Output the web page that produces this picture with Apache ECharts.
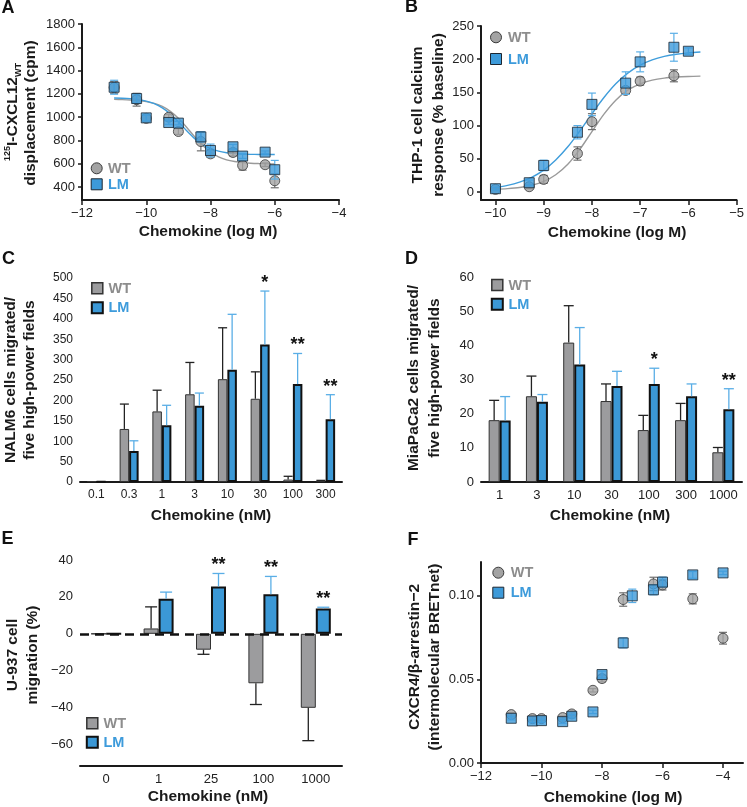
<!DOCTYPE html>
<html><head><meta charset="utf-8">
<script src="https://cdn.jsdelivr.net/npm/echarts@6/dist/echarts.min.js"></script>
<style>html,body{margin:0;padding:0;background:#fff}#c{width:747px;height:807px}</style>
</head><body><div id="c"></div>
<script>
// ---------- Panel A: 125I-CXCL12 displacement ----------
const aX = [-11, -10.3, -10, -9.3, -9, -8.3, -8, -7.3, -7, -6.3, -6];
const aWT = [1255, 1150, 990, 1000, 877, 791, 685, 697, 586, 592, 454];
const aWTErr = [50, 55, 25, 25, 25, 80, 30, 30, 40, 15, 60];
const aLM = [1257, 1160, 994, 954, 949, 831, 714, 746, 666, 700, 549];
const aLMErr = [60, 40, 25, 15, 15, 45, 55, 20, 20, 10, 80];
const aFitX = [-11, -10.75, -10.5, -10.25, -10, -9.75, -9.5, -9.25, -9, -8.75, -8.5, -8.25, -8, -7.75, -7.5, -7.25, -7, -6.75, -6.5, -6.25, -6];
const aWTFit = [1153, 1151, 1148, 1143, 1134, 1118, 1092, 1050, 991, 916, 834, 759, 701, 660, 634, 619, 610, 605, 602, 600, 599];
const aLMFit = [1165, 1163, 1159, 1151, 1138, 1116, 1080, 1028, 960, 886, 818, 766, 730, 708, 695, 687, 683, 681, 680, 679, 679];
const aYTicks = [400, 600, 800, 1000, 1200, 1400, 1600, 1800];

// ---------- Panel B: THP-1 calcium ----------
const bLMX = [-10, -9.3, -9, -8.3, -8, -7.3, -7, -6.3, -6];
const bLM = [5, 14, 40, 90, 132, 164, 196, 218, 212];
const bLMErr = [2, 4, 8, 10, 17, 17, 15, 21, 5];
const bWTX = [-10, -9.3, -9, -8.3, -8, -7.3, -7, -6.3];
const bWT = [4, 8, 19, 58, 106, 153, 167, 175];
const bWTErr = [2, 3, 6, 10, 12, 5, 6, 9];
const bFitX = [-10, -9.75, -9.5, -9.25, -9, -8.75, -8.5, -8.25, -8, -7.75, -7.5, -7.25, -7, -6.75, -6.5, -6.25, -6, -5.75];
const bLMFit = [7, 10, 14.8, 22, 32.9, 48.2, 68.1, 92.1, 117.8, 142.3, 163.3, 179.5, 191.1, 199, 204.2, 207.5, 209.6, 210.9];
const bWTFit = [4.1, 5.1, 6.8, 10.1, 16, 26.1, 41.9, 64.3, 91, 117.3, 138.7, 153.7, 163, 168.5, 171.5, 173.1, 174, 174.5];
const bXTicks = [-10, -9, -8, -7, -6, -5];
const bYTicks = [0, 50, 100, 150, 200, 250];

// ---------- Panel C: NALM6 migration ----------
const cCats = ['0.1', '0.3', '1', '3', '10', '30', '100', '300'];
const cWT = [2, 130, 173, 215, 252, 204, 6, 3];
const cWTErr = [0, 61, 52, 78, 126, 66, 8, 1];
const cLM = [1, 76, 139, 187, 275, 337, 240, 154];
const cLMErr = [0, 25, 49, 31, 136, 131, 75, 60];
const cStars = ['', '', '', '', '', '*', '**', '**'];

// ---------- Panel D: MiaPaCa2 migration ----------
const dCats = ['1', '3', '10', '30', '100', '300', '1000'];
const dWT = [18.1, 25.1, 40.8, 23.7, 15.2, 18.1, 8.7];
const dWTErr = [5.8, 5.9, 10.8, 5.0, 4.3, 4.9, 1.4];
const dLM = [18.0, 23.5, 34.4, 28.1, 28.7, 25.1, 21.3];
const dLMErr = [7.0, 2.1, 10.8, 4.3, 4.6, 3.6, 6.0];
const dStars = ['', '', '', '', '*', '', '**'];

// ---------- Panel E: U-937 migration ----------
const eCats = ['0', '1', '25', '100', '1000'];
const eWT = [0, 2.9, -8.6, -26.8, -40.1];
const eWTErr = [0, 11.7, 2.5, 11.5, 17.8];
const eLM = [0, 19.0, 25.7, 21.4, 13.7];
const eLMErr = [0, 3.6, 7.0, 9.7, 0.7];
const eStars = ['', '', '**', '**', '**'];
const eYLabels = [-60, -40, -20, 0, 20, 40];

// ---------- Panel F: BRET ----------
const fLMX = [-11, -10.3, -10, -9.3, -9, -8.3, -8, -7.3, -7, -6.3, -6, -5, -4];
const fLM = [0.0267, 0.0251, 0.0253, 0.0247, 0.0279, 0.0305, 0.0528, 0.0717, 0.0998, 0.1034, 0.108, 0.1123, 0.1135];
const fLMErr = [0.001, 0.001, 0.001, 0.001, 0.001, 0.001, 0.002, 0.003, 0.004, 0.003, 0.003, 0.002, 0.001];
const fWTX = [-11, -10.3, -10, -9.3, -9, -8.3, -8, -7.3, -6.3, -6, -5, -4];
const fWT = [0.0289, 0.0265, 0.0265, 0.0271, 0.0293, 0.0434, 0.0504, 0.0976, 0.1069, 0.1063, 0.098, 0.0745];
const fWTErr = [0.001, 0.001, 0.001, 0.001, 0.001, 0.001, 0.002, 0.004, 0.004, 0.003, 0.003, 0.0035];
const fXTicks = [-12, -10, -8, -6, -4];
const fYTicks = [0, 0.05, 0.1];

// ---------- styling ----------
const FONT = '"Liberation Sans", Arial, Helvetica, sans-serif';
const GRAY = '#9c9c9e', BLUE = '#3b98d6';
const GRAYTXT = '#8d8d8d', BLUETXT = '#3d9bdb';
const ERRG = '#6f6f6f', ERRB = '#5aaee6', AX = '#1a1a1a';
const MK_G = {color: '#a3a3a3', borderColor: '#3a3a3a', borderWidth: 1};
const MK_B = {color: '#3d9ad9', borderColor: '#1c2630', borderWidth: 1};
const minus = v => String(v).replace('-', '\u2212');

function zip(xs, ys) { return xs.map((x, i) => [x, ys[i]]); }

function axisBase(gi, extra) {
  const base = {
    gridIndex: gi,
    axisLine: {onZero: false, lineStyle: {color: AX, width: 2}},
    axisTick: {inside: false, length: 5, lineStyle: {color: AX, width: 1.5}},
    axisLabel: {color: '#222', fontSize: 13, fontFamily: FONT, margin: 7},
    splitLine: {show: false}
  };
  const out = Object.assign({}, base, extra);
  if (extra.axisLabel) out.axisLabel = Object.assign({}, base.axisLabel, extra.axisLabel);
  if (extra.axisTick) out.axisTick = Object.assign({}, base.axisTick, extra.axisTick);
  return out;
}

function scatterErr(ai, xs, ys, es, color, z) {
  return {
    type: 'custom', xAxisIndex: ai, yAxisIndex: ai, z: z, silent: true,
    data: xs.map((x, i) => [x, ys[i], es[i]]),
    renderItem: function (params, api) {
      const x = api.value(0), y = api.value(1), e = api.value(2);
      const p1 = api.coord([x, y + e]), p2 = api.coord([x, y - e]);
      const w = 4, st = {stroke: color, lineWidth: 1.2};
      return {type: 'group', children: [
        {type: 'line', shape: {x1: p1[0], y1: p1[1], x2: p2[0], y2: p2[1]}, style: st},
        {type: 'line', shape: {x1: p1[0] - w, y1: p1[1], x2: p1[0] + w, y2: p1[1]}, style: st},
        {type: 'line', shape: {x1: p2[0] - w, y1: p2[1], x2: p2[0] + w, y2: p2[1]}, style: st}
      ]};
    }
  };
}

function barErr(ai, ys, es, color, dx, capW, z) {
  return {
    type: 'custom', xAxisIndex: ai, yAxisIndex: ai, z: z, silent: true,
    data: ys.map((y, i) => [i, y, es[i]]),
    renderItem: function (params, api) {
      const i = api.value(0), y = api.value(1), e = api.value(2);
      if (!e) return null;
      const s = y < 0 ? -1 : 1;
      const x = api.coord([i, 0])[0] + dx;
      const y0 = api.coord([i, y])[1], y1 = api.coord([i, y + s * e])[1];
      const st = {stroke: color, lineWidth: 1.3};
      return {type: 'group', children: [
        {type: 'line', shape: {x1: x, y1: y0, x2: x, y2: y1}, style: st},
        {type: 'line', shape: {x1: x - capW / 2, y1: y1, x2: x + capW / 2, y2: y1}, style: st}
      ]};
    }
  };
}

function starSeries(ai, labels, ys, es, dx) {
  const items = [];
  labels.forEach((l, i) => { if (l) items.push({i: i, v: ys[i] + es[i], l: l}); });
  return {
    type: 'custom', xAxisIndex: ai, yAxisIndex: ai, z: 10, silent: true,
    data: items.map(o => [o.i, o.v]),
    renderItem: function (params, api) {
      const p = api.coord([api.value(0), api.value(1)]);
      return {type: 'text', x: p[0] + dx, y: p[1] - 8,
        style: {text: items[params.dataIndex].l, font: 'bold 18px ' + FONT, fill: '#111',
          align: 'center', verticalAlign: 'middle'}};
    }
  };
}

function barSeries(ai, data, isLM, bw, extra) {
  return Object.assign({
    type: 'bar', xAxisIndex: ai, yAxisIndex: ai, data: data, barWidth: bw, barGap: '0%', z: 2,
    itemStyle: isLM ? {color: BLUE, borderColor: '#111', borderWidth: 2}
                    : {color: GRAY, borderColor: '#333', borderWidth: 1}
  }, extra || {});
}

const grids = [
  {left: 82, top: 24, width: 257, height: 176},
  {left: 481, top: 26, width: 261, height: 174},
  {left: 80, top: 278, width: 262, height: 204},
  {left: 481, top: 277, width: 261, height: 205},
  {left: 80, top: 560, width: 262, height: 203},
  {left: 481, top: 562, width: 262, height: 201}
];

const xAxes = [
  axisBase(0, {type: 'value', min: -12, max: -4, interval: 2, axisLabel: {formatter: minus}}),
  axisBase(1, {type: 'value', min: -10.3, max: -5,
    axisLabel: {customValues: bXTicks, formatter: minus}, axisTick: {customValues: bXTicks}}),
  axisBase(2, {type: 'category', data: cCats, axisLabel: {fontSize: 12, interval: 0}}),
  axisBase(3, {type: 'category', data: dCats, axisLabel: {interval: 0}}),
  axisBase(4, {type: 'category', data: eCats, offset: 3, axisLabel: {interval: 0}}),
  axisBase(5, {type: 'value', min: -12, max: -3.34,
    axisLabel: {customValues: fXTicks, formatter: minus}, axisTick: {customValues: fXTicks}})
];
const yAxes = [
  axisBase(0, {type: 'value', min: 289, max: 1800,
    axisLabel: {customValues: aYTicks, formatter: v => String(v)}, axisTick: {customValues: aYTicks, length: 4}}),
  axisBase(1, {type: 'value', min: -12, max: 250,
    axisLabel: {customValues: bYTicks, formatter: v => String(v)}, axisTick: {customValues: bYTicks, length: 4}}),
  axisBase(2, {type: 'value', min: 0, max: 500, interval: 50, axisLabel: {fontSize: 12}, axisTick: {length: 4}}),
  axisBase(3, {type: 'value', min: 0, max: 60, interval: 10, axisTick: {length: 4}}),
  axisBase(4, {type: 'value', min: -70, max: 40, interval: 10,
    axisLabel: {customValues: eYLabels, formatter: minus}, axisTick: {length: 4}}),
  axisBase(5, {type: 'value', min: 0, max: 0.12,
    axisLabel: {customValues: fYTicks, formatter: v => v.toFixed(2)}, axisTick: {customValues: fYTicks, length: 4}})
];

const lineFit = (ai, xs, ys, color) => ({
  type: 'line', xAxisIndex: ai, yAxisIndex: ai, data: zip(xs, ys), showSymbol: false,
  smooth: 0.3, z: 1, silent: true,
  lineStyle: {color: color, width: 1.4}
});
const scat = (ai, xs, ys, sym, style, z) => ({
  type: 'scatter', xAxisIndex: ai, yAxisIndex: ai, data: zip(xs, ys),
  symbol: sym, symbolSize: 10, itemStyle: style, z: z
});

const series = [
  // A
  lineFit(0, aFitX, aWTFit, '#9a9a9a'),
  lineFit(0, aFitX, aLMFit, '#3f9ddb'),
  scatterErr(0, aX, aWT, aWTErr, ERRG, 2),
  scat(0, aX, aWT, 'circle', MK_G, 3),
  scatterErr(0, aX, aLM, aLMErr, ERRB, 4),
  scat(0, aX, aLM, 'rect', MK_B, 5),
  // B
  lineFit(1, bFitX, bWTFit, '#9a9a9a'),
  lineFit(1, bFitX, bLMFit, '#3f9ddb'),
  scatterErr(1, bWTX, bWT, bWTErr, ERRG, 2),
  scat(1, bWTX, bWT, 'circle', MK_G, 3),
  scatterErr(1, bLMX, bLM, bLMErr, ERRB, 4),
  scat(1, bLMX, bLM, 'rect', MK_B, 5),
  // C
  barSeries(2, cWT, false, 9.5),
  barSeries(2, cLM, true, 9.5),
  barErr(2, cWT, cWTErr, '#222', -4.75, 9, 3),
  barErr(2, cLM, cLMErr, ERRB, 4.75, 9, 3),
  starSeries(2, cStars, cLM, cLMErr, 4.75),
  // D
  barSeries(3, dWT, false, 11),
  barSeries(3, dLM, true, 11),
  barErr(3, dWT, dWTErr, '#222', -5.5, 10, 3),
  barErr(3, dLM, dLMErr, ERRB, 5.5, 10, 3),
  starSeries(3, dStars, dLM, dLMErr, 5.5),
  // E
  barSeries(4, eWT, false, 15),
  barSeries(4, eLM, true, 15, {
    markLine: {silent: true, symbol: 'none', label: {show: false}, animation: false,
      lineStyle: {type: [9, 6], color: '#111', width: 2.5}, data: [{yAxis: 0}]}
  }),
  barErr(4, eWT, eWTErr, '#222', -7.5, 12, 3),
  barErr(4, eLM, eLMErr, ERRB, 7.5, 12, 3),
  starSeries(4, eStars, eLM, eLMErr, 7.5),
  // F
  scatterErr(5, fWTX, fWT, fWTErr, ERRG, 2),
  scat(5, fWTX, fWT, 'circle', MK_G, 3),
  scatterErr(5, fLMX, fLM, fLMErr, ERRB, 4),
  scat(5, fLMX, fLM, 'rect', MK_B, 5)
];

// ---------- text & legends ----------
const g = [];
const txt = (x, y, text, font, fill, extra) => g.push(Object.assign({
  type: 'text', x: x, y: y,
  style: {text: text, font: font, fill: fill || '#1a1a1a', align: 'center', verticalAlign: 'middle'}
}, extra || {}));
const TF = 'bold 15.5px ' + FONT;
const vtxt = (x, y, text) => txt(x, y, text, TF, '#1a1a1a', {rotation: Math.PI / 2});

// panel letters
[['A', 8, 8.5], ['B', 411.5, 7.5], ['C', 8.5, 259], ['D', 411.5, 259.5], ['E', 7.5, 539], ['F', 413, 540]]
  .forEach(p => txt(p[1], p[2], p[0], 'bold 18px ' + FONT, '#111'));

// x titles
txt(208, 232, 'Chemokine (log M)', TF);
txt(617, 233, 'Chemokine (log M)', TF);
txt(211, 516, 'Chemokine (nM)', TF);
txt(610, 516, 'Chemokine (nM)', TF);
txt(208, 797, 'Chemokine (nM)', TF);
txt(613, 797.5, 'Chemokine (log M)', TF);

// y titles
g.push({type: 'text', x: 13, y: 112, rotation: Math.PI / 2,
  style: {text: '{sup|125}{m|I-CXCL12}{sub|WT}', align: 'center', verticalAlign: 'middle', fill: '#1a1a1a',
    rich: {
      sup: {font: 'bold 9px ' + FONT, verticalAlign: 'top', fill: '#1a1a1a'},
      m: {font: TF, lineHeight: 20, fill: '#1a1a1a'},
      sub: {font: 'bold 9px ' + FONT, verticalAlign: 'bottom', fill: '#1a1a1a'}
    }}});
vtxt(31, 113, 'displacement (cpm)');
vtxt(417.5, 115, 'THP-1 cell calcium');
vtxt(438.5, 115, 'response (% baseline)');
vtxt(11, 380, 'NALM6 cells migrated/');
vtxt(30, 380, 'five high-power fields');
vtxt(414, 378, 'MiaPaCa2 cells migrated/');
vtxt(435, 378, 'five high-power fields');
vtxt(12.5, 655, 'U-937 cell');
vtxt(32.5, 655, 'migration (%)');
vtxt(414.5, 657, 'CXCR4/\u03b2-arrestin\u22122');
vtxt(434.5, 657, '(intermolecular BRETnet)');

// legends
const LF = 'bold 14.5px ' + FONT;
function legendItem(cx, cy, shape, fill, stroke, lw, label, color, tx) {
  if (shape === 'circle') g.push({type: 'circle', shape: {cx: cx, cy: cy, r: 5.5}, style: {fill: fill, stroke: stroke, lineWidth: lw}});
  else g.push({type: 'rect', shape: {x: cx - 5.5, y: cy - 5.5, width: 11, height: 11}, style: {fill: fill, stroke: stroke, lineWidth: lw}});
  g.push({type: 'text', x: tx, y: cy + 0.5, style: {text: label, font: LF, fill: color, align: 'left', verticalAlign: 'middle'}});
}
legendItem(96.7, 168.3, 'circle', '#a3a3a3', '#3a3a3a', 1, 'WT', GRAYTXT, 108);
legendItem(96.7, 184.3, 'rect', '#3d9ad9', '#1c2630', 1, 'LM', BLUETXT, 108);
legendItem(496, 37.3, 'circle', '#a3a3a3', '#3a3a3a', 1, 'WT', GRAYTXT, 508);
legendItem(496, 59, 'rect', '#3d9ad9', '#1c2630', 1, 'LM', BLUETXT, 508);
legendItem(97.3, 288.3, 'rect', GRAY, '#333', 1.5, 'WT', GRAYTXT, 108.5);
legendItem(97.3, 307.7, 'rect', BLUE, '#111', 2, 'LM', BLUETXT, 108.5);
legendItem(497.3, 285, 'rect', GRAY, '#333', 1.5, 'WT', GRAYTXT, 508.5);
legendItem(497.3, 304.3, 'rect', BLUE, '#111', 2, 'LM', BLUETXT, 508.5);
legendItem(92.3, 723.3, 'rect', GRAY, '#333', 1.5, 'WT', GRAYTXT, 103.5);
legendItem(92.3, 742.3, 'rect', BLUE, '#111', 2, 'LM', BLUETXT, 103.5);
legendItem(498.3, 572.7, 'circle', '#a3a3a3', '#3a3a3a', 1, 'WT', GRAYTXT, 510.7);
legendItem(498.3, 592.7, 'rect', '#3d9ad9', '#1c2630', 1, 'LM', BLUETXT, 510.7);

const chart = echarts.init(document.getElementById('c'), null, {renderer: 'canvas'});
chart.setOption({
  animation: false,
  backgroundColor: '#fff',
  textStyle: {fontFamily: FONT},
  grid: grids,
  xAxis: xAxes,
  yAxis: yAxes,
  series: series,
  graphic: g
});
</script>
</body></html>
